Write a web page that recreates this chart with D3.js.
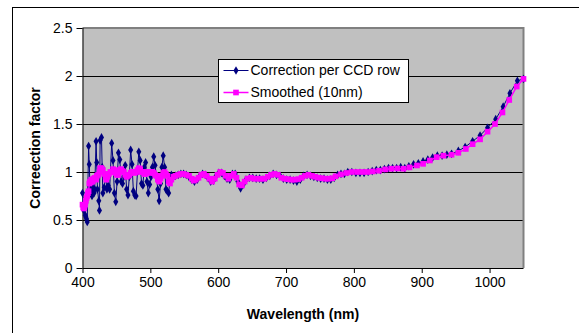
<!DOCTYPE html>
<html>
<head>
<meta charset="utf-8">
<script src="https://cdn.jsdelivr.net/npm/d3@7"></script>
<style>
  body { margin: 0; background: #fff; }
  svg { display: block; font-family: "Liberation Sans", Arial, sans-serif; }
</style>
</head>
<body>
<svg id="chart" width="579" height="333"></svg>
<script>
// wavelength (nm), correction factor
const perRow = [
  [400,0.78],[401,0.66],[402,0.60],[404,0.55],[405,0.53],[406,0.51],[407,0.48],[409,1.27],[410,1.08],[411,0.85],
  [412,0.80],[414,0.75],[415,0.84],[417,0.78],[418,0.82],[420,1.32],[421,1.10],[422,0.82],[424,0.70],[425,0.60],
  [426,1.33],[428,1.36],[429,1.05],[430,0.78],[432,0.84],[434,0.96],[436,0.82],[438,0.86],[440,0.82],[443,1.30],
  [445,1.12],[447,0.78],[449,0.69],[451,0.90],[453,1.20],[455,1.13],[457,0.90],[459,0.88],[461,0.95],[463,1.07],
  [465,0.82],[467,0.76],[469,0.95],[471,1.23],[473,1.08],[475,0.80],[477,0.76],[479,0.75],[481,1.00],[483,1.21],
  [485,1.12],[487,0.88],[489,0.86],[491,1.05],[493,1.10],[495,0.90],[497,0.78],[499,0.87],[501,0.95],[503,1.05],
  [505,1.16],[507,1.07],[509,0.95],[511,0.82],[513,0.70],[515,0.88],[517,1.05],[519,1.17],[521,1.05],[523,0.82],
  [525,0.80],[527,0.78],[529,0.93],[531,0.97],[534,0.95],[537,0.96],[541,0.97],[545,0.98],[549,0.98],[553,0.97],
  [557,0.95],[561,0.92],[565,0.90],[569,0.92],[573,0.96],[577,0.98],[581,0.97],[585,0.94],[589,0.90],[593,0.91],
  [597,0.96],[601,0.99],[605,0.99],[609,0.96],[613,0.93],[617,0.92],[621,0.98],[625,0.98],[629,0.90],[633,0.83],
  [637,0.87],[641,0.92],[646,0.94],[651,0.94],[656,0.93],[661,0.93],[666,0.92],[671,0.94],[676,0.96],[681,0.98],
  [686,0.97],[691,0.96],[696,0.93],[701,0.92],[706,0.92],[711,0.91],[716,0.90],[721,0.92],[726,0.96],[731,0.97],
  [736,0.96],[741,0.95],[746,0.94],[751,0.93],[756,0.93],[761,0.92],[766,0.92],[771,0.94],[776,0.97],[781,0.98],
  [786,0.98],[791,1.00],[797,1.00],[803,0.99],[809,0.99],[815,0.99],[821,1.00],[827,1.01],[833,1.02],[839,1.02],
  [845,1.03],[851,1.04],[857,1.04],[863,1.04],[869,1.05],[875,1.04],[881,1.06],[888,1.08],[895,1.09],[902,1.11],
  [909,1.13],[916,1.15],[923,1.17],[930,1.17],[937,1.18],[944,1.19],[954,1.22],[964,1.26],[975,1.32],[986,1.38],
  [997,1.46],[1009,1.55],[1020,1.68],[1030,1.82],[1041,1.95],[1050,1.97]
];

const smoothed = [
  [400,0.66],[401,0.63],[402,0.62],[403,0.64],[404,0.66],[405,0.70],[406,0.73],[407,0.75],[408,0.78],[409,0.80],
  [410,0.88],[411,0.90],[412,0.89],[413,0.92],[415,0.90],[416,0.93],[418,0.94],[420,0.92],[421,0.96],[423,0.97],
  [425,1.00],[426,1.04],[428,1.04],[430,1.02],[432,0.98],[434,0.95],[435,0.92],[437,0.95],[439,0.98],[441,1.00],
  [443,1.00],[445,1.03],[447,1.02],[449,0.99],[451,0.97],[453,0.97],[455,1.02],[457,1.03],[459,1.01],[461,1.00],
  [463,0.97],[465,0.95],[467,0.96],[469,0.97],[471,0.99],[473,1.00],[475,1.00],[477,0.99],[479,1.00],[481,1.02],
  [483,1.04],[485,1.03],[487,1.00],[489,1.00],[491,0.98],[493,0.98],[495,1.00],[497,1.00],[499,0.99],[501,1.00],
  [503,1.00],[505,0.99],[507,0.97],[509,0.96],[511,0.92],[513,0.90],[515,0.93],[517,0.96],[519,0.99],[521,1.00],
  [523,0.98],[525,0.96],[527,0.90],[529,0.88],[531,0.92],[534,0.95],[537,0.96],[541,0.97],[545,0.98],[549,0.98],
  [553,0.97],[557,0.96],[561,0.93],[564,0.91],[567,0.92],[571,0.94],[575,0.97],[579,0.98],[583,0.96],[587,0.93],
  [591,0.90],[595,0.93],[599,0.97],[603,1.00],[607,0.99],[611,0.96],[615,0.93],[619,0.96],[623,0.98],[627,0.94],
  [631,0.87],[635,0.86],[639,0.90],[643,0.93],[648,0.94],[653,0.93],[658,0.93],[663,0.93],[668,0.93],[673,0.95],
  [678,0.97],[683,0.98],[688,0.97],[693,0.94],[698,0.93],[703,0.925],[708,0.92],[713,0.92],[718,0.926],[723,0.94],
  [728,0.96],[733,0.97],[738,0.96],[743,0.95],[748,0.94],[753,0.935],[758,0.93],[763,0.93],[768,0.935],[773,0.955],
  [781,0.975],[789,0.99],[797,1.00],[805,1.00],[813,1.00],[820,1.00],[828,1.006],[837,1.013],[846,1.027],[855,1.034],
  [864,1.037],[873,1.034],[882,1.048],[893,1.068],[902,1.085],[912,1.12],[922,1.155],[932,1.17],[944,1.18],[954,1.20],
  [965,1.24],[975,1.29],[986,1.34],[997,1.42],[1008,1.50],[1019,1.62],[1029,1.75],[1040,1.89],[1050,1.97]
];

const xTicks = [400, 500, 600, 700, 800, 900, 1000];
const yTicks = [0, 0.5, 1, 1.5, 2, 2.5];
const seriesNames = ['Correction per CCD row', 'Smoothed (10nm)'];

const plot = {left: 82.5, right: 523.5, top: 28, bottom: 268};

const svg = d3.select('#chart');

// outer frame
svg.append('rect')
    .attr('x', 12.5).attr('y', 7.5)
    .attr('width', 600).attr('height', 400)
    .attr('fill', '#fff').attr('stroke', '#000');

const x = d3.scaleLinear().domain([400, 1050]).range([plot.left, plot.right]);
const y = d3.scaleLinear().domain([0, 2.5]).range([plot.bottom, plot.top]);

svg.append('rect')
    .attr('x', plot.left).attr('y', plot.top)
    .attr('width', plot.right - plot.left).attr('height', plot.bottom - plot.top)
    .attr('fill', '#c0c0c0');

// gridlines
svg.append('g').selectAll('line').data(yTicks.slice(1, -1))
  .enter().append('line')
    .attr('x1', plot.left).attr('x2', plot.right)
    .attr('y1', d => Math.round(y(d)) + 0.5).attr('y2', d => Math.round(y(d)) + 0.5)
    .attr('stroke', '#000');

// top + right plot border
svg.append('path')
    .attr('d', `M${plot.left},${plot.top}H${plot.right}V${plot.bottom}`)
    .attr('fill', 'none').attr('stroke', '#808080').attr('stroke-width', 2);

const xAxis = d3.axisBottom(x).tickValues(xTicks).tickSize(5).tickPadding(4).tickFormat(d3.format('d'));
const yAxis = d3.axisLeft(y).tickValues(yTicks).tickSize(6).tickPadding(4).tickFormat(d => d);

const gx = svg.append('g').attr('transform', `translate(0,${plot.bottom})`).call(xAxis);
const gy = svg.append('g').attr('transform', `translate(${plot.left},0)`).call(yAxis);

[gx, gy].forEach(g => {
  g.select('.domain').attr('stroke', '#000');
  g.selectAll('.tick line').attr('stroke', '#000');
  g.selectAll('text').attr('font-size', 14).attr('fill', '#000')
      .attr('font-family', '"Liberation Sans", Arial, sans-serif');
});
gx.select('.domain').attr('d', `M${plot.left},0.5H${plot.right}`);
gy.select('.domain').attr('d', `M0.5,${plot.bottom}V${plot.top}`);

const line = d3.line().x(d => x(d[0])).y(d => y(d[1]));

const diamond = d3.symbol(d3.symbolDiamond, 22);
const square = d3.symbol(d3.symbolSquare, 32);

// per-row series
svg.append('path').datum(perRow)
    .attr('d', line).attr('fill', 'none')
    .attr('stroke', '#000080').attr('stroke-width', 1);
svg.append('g').selectAll('path').data(perRow)
  .enter().append('path')
    .attr('d', diamond)
    .attr('transform', d => `translate(${x(d[0])},${y(d[1])})`)
    .attr('fill', '#000080');

// smoothed series
svg.append('path').datum(smoothed)
    .attr('d', line).attr('fill', 'none')
    .attr('stroke', '#ff00ff').attr('stroke-width', 1.5);
svg.append('g').selectAll('path').data(smoothed)
  .enter().append('path')
    .attr('d', square)
    .attr('transform', d => `translate(${x(d[0])},${y(d[1])})`)
    .attr('fill', '#ff00ff');

// axis titles
svg.append('text')
    .attr('x', 303).attr('y', 319)
    .attr('text-anchor', 'middle')
    .attr('font-size', 14).attr('font-weight', 'bold')
    .text('Wavelength (nm)');

svg.append('text')
    .attr('transform', 'translate(40,148) rotate(-90)')
    .attr('text-anchor', 'middle')
    .attr('font-size', 14).attr('font-weight', 'bold')
    .text('Correection factor');

// legend
const legend = svg.append('g').attr('transform', 'translate(218.5,59.5)');
legend.append('rect')
    .attr('width', 190).attr('height', 43)
    .attr('fill', '#fff').attr('stroke', '#000');

const legendItems = legend.selectAll('.item').data(seriesNames)
  .enter().append('g')
    .attr('class', 'item')
    .attr('transform', (d, i) => `translate(0,${11 + i * 22})`);

legendItems.append('line')
    .attr('x1', 5).attr('x2', 30)
    .attr('stroke', (d, i) => i ? '#ff00ff' : '#000080')
    .attr('stroke-width', (d, i) => i ? 1.5 : 1);
legendItems.append('path')
    .attr('d', (d, i) => (i ? square : diamond)())
    .attr('transform', 'translate(17.5,0)')
    .attr('fill', (d, i) => i ? '#ff00ff' : '#000080');
legendItems.append('text')
    .attr('x', 32).attr('dy', '0.35em')
    .attr('font-size', 14)
    .text(d => d);
</script>
</body>
</html>
